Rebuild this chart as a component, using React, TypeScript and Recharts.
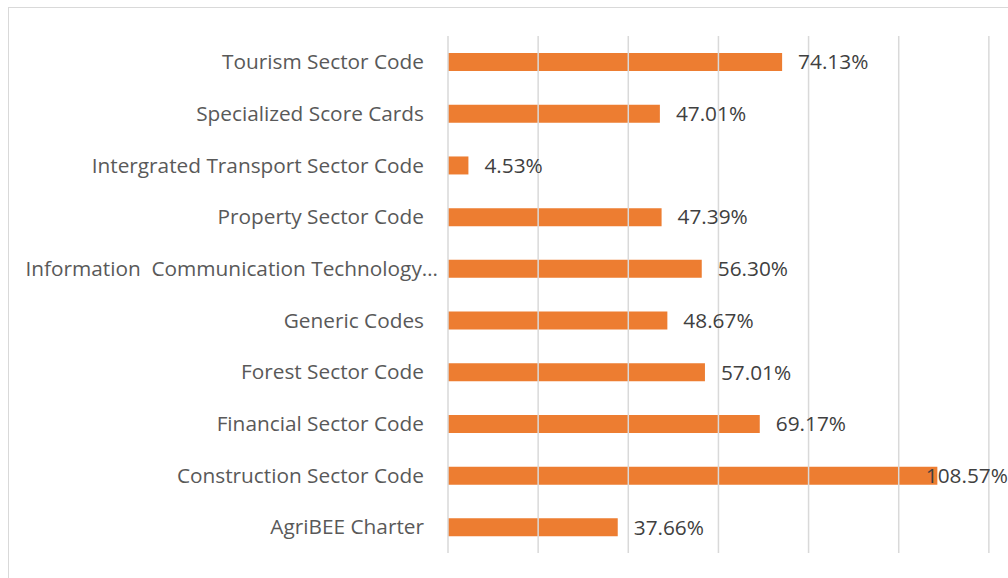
import React from "react";
import { BarChart, Bar, XAxis, YAxis, ReferenceLine, LabelList } from "recharts";

const categories = [
  "Tourism Sector Code",
  "Specialized Score Cards",
  "Intergrated Transport Sector Code",
  "Property Sector Code",
  "Information  Communication Technology Sector Code",
  "Generic Codes",
  "Forest Sector Code",
  "Financial Sector Code",
  "Construction Sector Code",
  "AgriBEE Charter",
];
const values = [74.13, 47.01, 4.53, 47.39, 56.3, 48.67, 57.01, 69.17, 108.57, 37.66];
const xTicks = [0, 20, 40, 60, 80, 100, 120, 140];

const data = categories.map((c, i) => ({ name: c, value: values[i] }));

const FONT = "'Open Sans', sans-serif";
const FS = 20.8;
const MAX_LABEL = 38;

const CategoryTick = (props: any) => {
  const { x, y, payload } = props;
  let t: string = payload.value;
  let shift = 0;
  if (t.length > MAX_LABEL) {
    t = t.slice(0, MAX_LABEL).trimEnd() + "…";
    shift = 14; // truncated labels overflow toward the axis
  }
  return (
    <text x={x + shift} y={y} dy="0.35em" textAnchor="end" fill="#595959" fontSize={FS} fontFamily={FONT} style={{ whiteSpace: "pre" }}>
      {t}
    </text>
  );
};

const VIEW_RIGHT = 999; // visible right edge in chart coords

const textWidth = (s: string) =>
  s.split("").reduce((w, ch) => w + (ch === "." ? 0.266 : ch === "%" ? 0.825 : 0.572) * FS, 0);

const ValueLabel = (props: any) => {
  const { x, y, width, height, value } = props;
  const txt = `${Number(value).toFixed(2)}%`;
  const w = textWidth(txt);
  let lx = x + width + 16;
  if (lx + w > VIEW_RIGHT) lx = VIEW_RIGHT - w;
  return (
    <text x={lx} y={y + height / 2} dy="0.35em" textAnchor="start" fill="#404040" fontSize={FS} fontFamily={FONT}>
      {txt}
    </text>
  );
};

export default function App() {
  return (
    <div style={{ position: "fixed", left: 0, top: 0, width: 1008, height: 578, overflow: "hidden", background: "#fff" }}>
      <div style={{ position: "absolute", left: 8, top: 7, width: 1100, height: 600, border: "1px solid #d9d9d9", background: "#fff" }}>
        <BarChart
          width={1100}
          height={570}
          data={data}
          layout="vertical"
          margin={{ top: 28, right: 30, bottom: 25, left: 0 }}
          barCategoryGap="33%"
        >
          <XAxis type="number" domain={[0, 140]} ticks={xTicks} tick={false} axisLine={false} tickLine={false} height={0} />
          <YAxis
            type="category"
            dataKey="name"
            width={439}
            axisLine={false}
            tickLine={false}
            tickSize={0}
            tickMargin={24}
            tick={<CategoryTick />}
            interval={0}
          />
          {xTicks.map((t) => (
            <ReferenceLine key={t} x={t} stroke="#d9d9d9" strokeWidth={1.5} />
          ))}
          <Bar dataKey="value" fill="#ED7D31" isAnimationActive={false}>
            <LabelList dataKey="value" content={<ValueLabel />} />
          </Bar>
        </BarChart>
      </div>
    </div>
  );
}
